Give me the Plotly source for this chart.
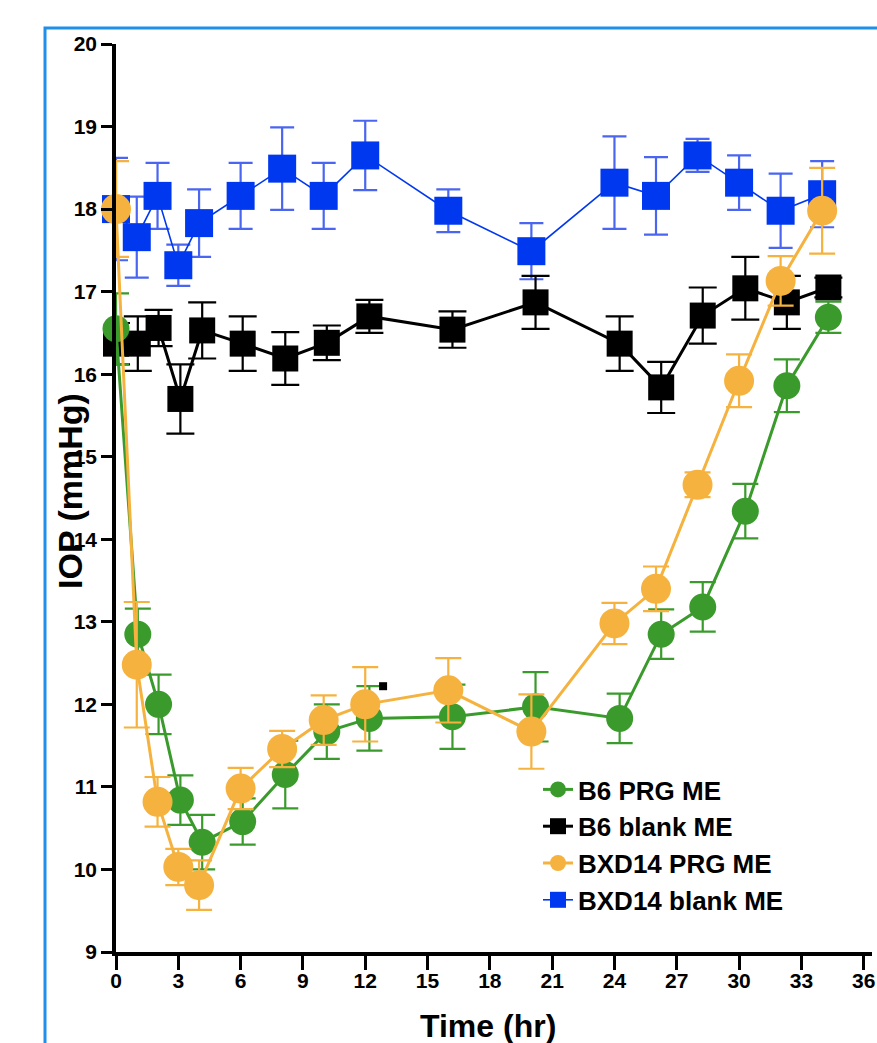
import plotly.graph_objects as go

# ---------------- data ----------------
t_bxd = [0, 1, 2, 3, 4, 6, 8, 10, 12, 16, 20, 24, 26, 28, 30, 32, 34]
t_b6 = [0, 1.05, 2.05, 3.1, 4.15, 6.1, 8.15, 10.15, 12.2, 16.2, 20.2, 24.25, 26.25, 28.25, 30.3, 32.3, 34.3]

bxd14_blank = [18.0, 17.66, 18.16, 17.32, 17.83, 18.16, 18.49, 18.16, 18.65, 17.98, 17.49, 18.32, 18.16, 18.65, 18.32, 17.98, 18.18]
bxd14_blank_err = [0.62, 0.49, 0.40, 0.25, 0.41, 0.40, 0.50, 0.40, 0.42, 0.26, 0.34, 0.56, 0.47, 0.20, 0.33, 0.45, 0.40]

b6_blank = [16.37, 16.37, 16.56, 15.70, 16.53, 16.37, 16.19, 16.38, 16.70, 16.54, 16.87, 16.37, 15.84, 16.71, 17.04, 16.87, 17.05]
b6_blank_err = [0.25, 0.33, 0.22, 0.42, 0.34, 0.33, 0.32, 0.21, 0.20, 0.22, 0.32, 0.33, 0.31, 0.34, 0.38, 0.32, 0.12]

b6_prg = [16.55, 12.85, 12.0, 10.84, 10.33, 10.58, 11.15, 11.67, 11.83, 11.85, 11.97, 11.83, 12.85, 13.18, 14.34, 15.86, 16.69]
b6_prg_err = [0.43, 0.31, 0.36, 0.30, 0.33, 0.28, 0.41, 0.33, 0.39, 0.39, 0.42, 0.30, 0.30, 0.30, 0.33, 0.32, 0.19]

bxd14_prg = [18.0, 12.48, 10.82, 10.03, 9.81, 10.98, 11.46, 11.81, 12.0, 12.17, 11.67, 12.98, 13.40, 14.66, 15.92, 17.13, 17.98]
bxd14_prg_err = [0.58, 0.76, 0.30, 0.22, 0.30, 0.25, 0.22, 0.30, 0.45, 0.39, 0.45, 0.25, 0.27, 0.15, 0.32, 0.30, 0.52]

stray_t = [12.86]
stray_v = [12.22]

x_ticks = list(range(0, 37, 3))
y_ticks = list(range(9, 21))

# ---------------- styling ----------------
BLUE = "#0038F0"
BLUE_ERR = "#4a66f0"
BLACK = "#000000"
GREEN = "#3A9B2C"
ORANGE = "#F5B23E"
SANS = "Liberation Sans, Arial, Helvetica, sans-serif"

W, H = 877, 1043
L, T = 116, 44
PW, PH = 756, 908          # plot area size in px
R = W - L - PW
B = H - T - PH

def px_x(px):  # window px -> paper x
    return (px - L) / PW

def px_y(py):  # window px -> paper y
    return (T + PH - py) / PH

fig = go.Figure()

def add(name, t, v, e, color, ecolor, symbol, size, lw, ew, rank):
    fig.add_trace(go.Scatter(
        x=t, y=v, name=name, mode="lines+markers",
        line=dict(color=color, width=lw),
        marker=dict(color=color, symbol=symbol, size=size, line=dict(width=0)),
        error_y=dict(type="data", array=e, visible=True, color=ecolor,
                     thickness=2.2, width=ew),
        cliponaxis=False, legendrank=rank, legendgroup=name,
    ))

add("BXD14 blank ME", t_bxd, bxd14_blank, bxd14_blank_err, BLUE, BLUE_ERR, "square", 28, 1.6, 12, 4)
add("B6 blank ME", t_b6, b6_blank, b6_blank_err, BLACK, BLACK, "square", 26, 3, 14, 2)
add("B6 PRG ME", t_b6, b6_prg, b6_prg_err, GREEN, GREEN, "circle", 27, 3, 13, 1)
add("BXD14 PRG ME", t_bxd, bxd14_prg, bxd14_prg_err, ORANGE, ORANGE, "circle", 30, 3, 13, 3)

fig.add_trace(go.Scatter(
    x=stray_t, y=stray_v, mode="markers", showlegend=False,
    marker=dict(color=BLACK, symbol="square", size=8), hoverinfo="skip",
))

axis_common = dict(
    showline=True, linecolor=BLACK, linewidth=3.5,
    ticks="outside", tickcolor=BLACK, tickwidth=2.5,
    showgrid=False, zeroline=False, automargin=False,
    tickfont=dict(family=SANS, size=21, color=BLACK, weight="bold"),
)

fig.update_layout(
    width=W, height=H,
    margin=dict(l=L, r=R, t=T, b=B, autoexpand=False),
    paper_bgcolor="white", plot_bgcolor="white",
    xaxis=dict(range=[0, 36.4], tickvals=x_ticks, ticklen=14, ticklabelstandoff=-7, **axis_common),
    yaxis=dict(range=[9, 20], tickvals=y_ticks, ticklen=11, **axis_common),
    legend=dict(
        x=px_x(538), y=px_y(766), xanchor="left", yanchor="top",
        font=dict(family=SANS, size=26, color=BLACK, weight="bold"),
        bgcolor="rgba(0,0,0,0)", tracegroupgap=8, traceorder="normal",
    ),
    showlegend=True,
    shapes=[dict(
        type="rect", xref="paper", yref="paper",
        x0=px_x(45), x1=1.2, y0=-0.3, y1=px_y(28),
        line=dict(color="#1E8FEA", width=3), layer="below",
    )],
    annotations=[
        dict(text="IOP (mmHg)", xref="paper", yref="paper",
             x=px_x(70), y=px_y(491), xanchor="center", yanchor="middle",
             textangle=-90, showarrow=False,
             font=dict(family=SANS, size=34, color=BLACK, weight="bold")),
        dict(text="Time (hr)", xref="paper", yref="paper",
             x=px_x(488), y=px_y(1026), xanchor="center", yanchor="middle",
             showarrow=False,
             font=dict(family=SANS, size=32, color=BLACK, weight="bold")),
    ],
)

fig.write_html(
    "out.html",
    config={"displayModeBar": False},
    post_script="document.body.style.margin='0';document.body.style.overflow='hidden';",
)
